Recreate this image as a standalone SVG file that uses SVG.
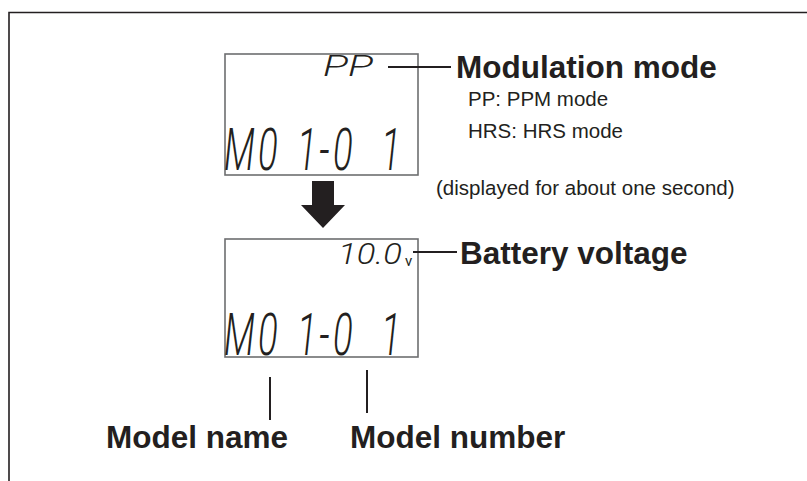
<svg xmlns="http://www.w3.org/2000/svg" width="807" height="481" viewBox="0 0 807 481">
<style>
.frame{fill:none;stroke:#231f20;stroke-width:1.6}
.lcd{fill:#fff;stroke:#6d6e70;stroke-width:1.6}
.seg{font-family:Roboto,"Liberation Sans",sans-serif;font-style:italic;font-weight:300;fill:#231f20}
.big{font-size:59px}
.mid{font-size:30px}
.bold{font-family:"Liberation Sans",Arial,sans-serif;font-weight:bold;font-size:31.5px;fill:#231f20}
.small{font-family:"Liberation Sans",Arial,sans-serif;font-size:20.5px;fill:#231f20}
.lead{stroke:#231f20;stroke-width:2;fill:none}
</style>
<rect width="807" height="481" fill="#fff"/>
<g id="frame">
<path class="frame" d="M9 481 V12.5 H807"/>
</g>
<g id="lcd1">
<rect class="lcd" x="225" y="54" width="193" height="121"/>
<text class="seg" font-size="30" x="323" y="76" textLength="50" lengthAdjust="spacingAndGlyphs">PP</text>
<text class="seg big" transform="translate(0,170) scale(0.62,1)"><tspan x="361.3">M</tspan><tspan x="416.1">0</tspan><tspan x="479">1</tspan><tspan x="515">-</tspan><tspan x="537">0</tspan><tspan x="614.5">1</tspan></text>
</g>
<g id="arrow">
<polygon points="312,181 334,181 334,205 345,205 323,228 301,205 312,205" fill="#231f20"/>
</g>
<g id="lcd2">
<rect class="lcd" x="225" y="239" width="193" height="118"/>
<text class="seg mid" x="338" y="264" textLength="64" lengthAdjust="spacingAndGlyphs">10.0</text>
<text x="405" y="266" font-family="Roboto,'Liberation Sans',sans-serif" font-size="15" fill="#231f20">v</text>
<text class="seg big" transform="translate(0,355) scale(0.62,1)"><tspan x="361.3">M</tspan><tspan x="416.1">0</tspan><tspan x="479">1</tspan><tspan x="515">-</tspan><tspan x="537">0</tspan><tspan x="614.5">1</tspan></text>
</g>
<g id="connectors">
<line class="lead" x1="388" y1="67" x2="451" y2="67"/>
<line class="lead" x1="413" y1="252" x2="457" y2="252"/>
<line class="lead" x1="270" y1="377" x2="270" y2="420"/>
<line class="lead" x1="367" y1="370" x2="367" y2="413"/>
</g>
<g id="label-modulation">
<text class="bold" x="456" y="78">Modulation mode</text>
<text class="small" x="468" y="106">PP: PPM mode</text>
<text class="small" x="468" y="138">HRS: HRS mode</text>
<text class="small" x="436" y="195">(displayed for about one second)</text>
</g>
<g id="label-battery">
<text class="bold" x="460" y="264">Battery voltage</text>
</g>
<g id="label-model-name">
<text class="bold" x="106" y="448">Model name</text>
</g>
<g id="label-model-number">
<text class="bold" x="350" y="448">Model number</text>
</g>
</svg>
